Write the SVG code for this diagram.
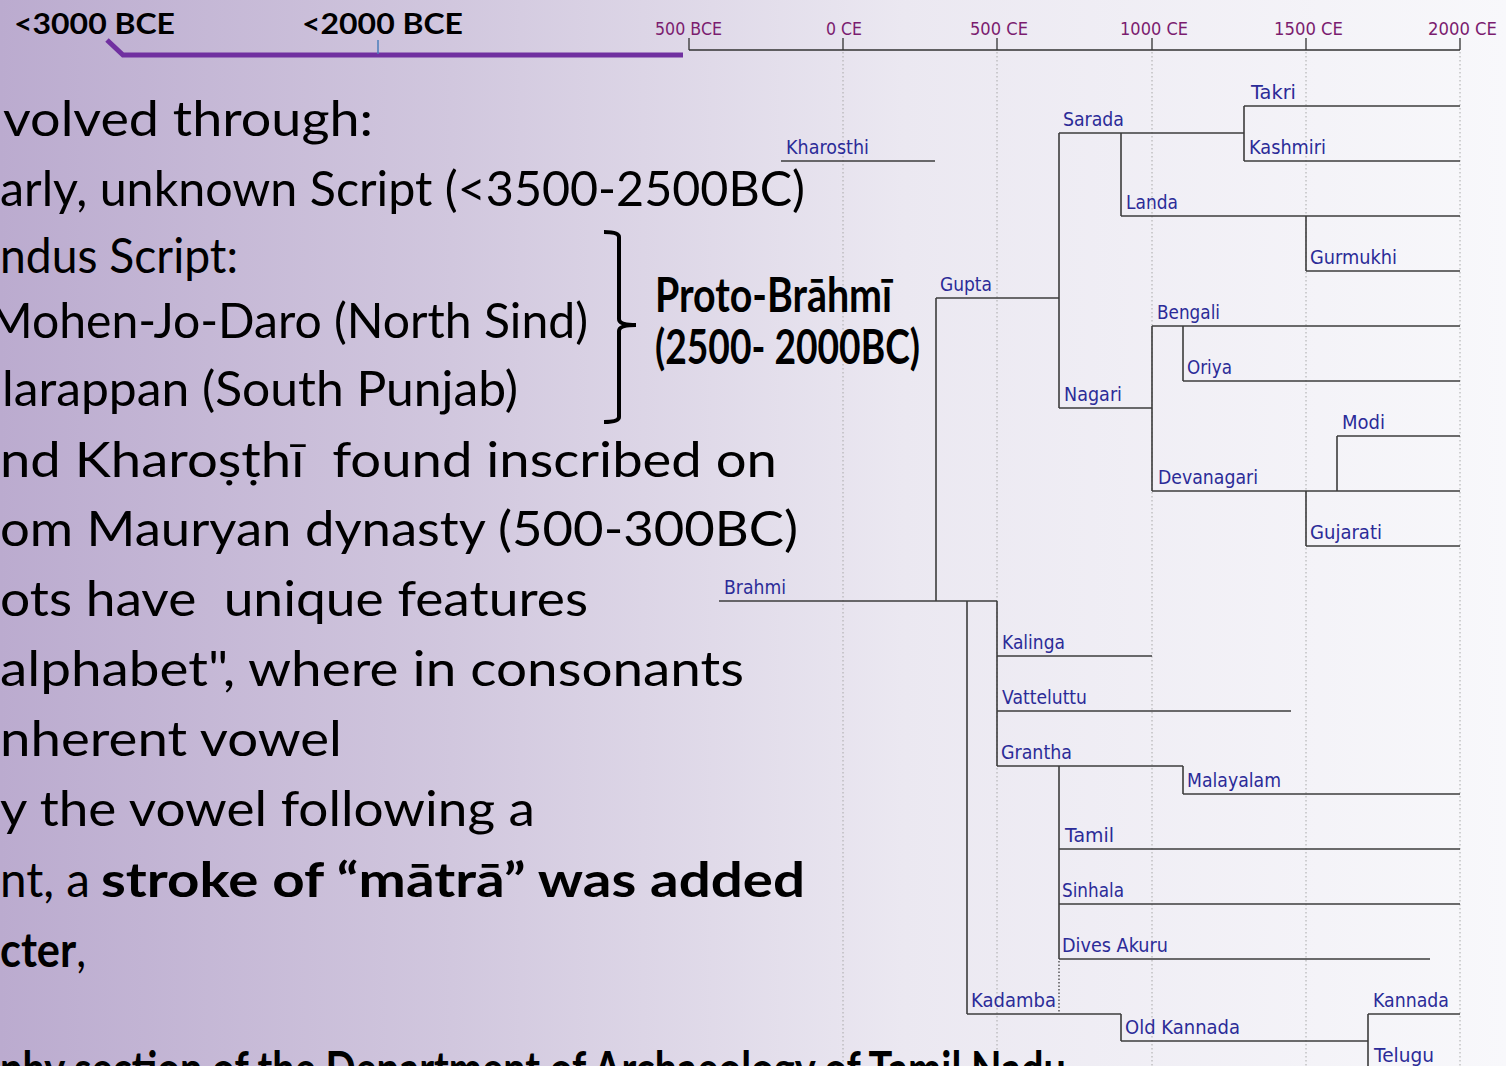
<svg xmlns="http://www.w3.org/2000/svg" width="1506" height="1066" viewBox="0 0 1506 1066">
  <defs>
    <linearGradient id="bg" x1="0" y1="0" x2="1" y2="0">
      <stop offset="0" stop-color="#bbabcf"/>
      <stop offset="0.3" stop-color="#d1c7de"/>
      <stop offset="0.6" stop-color="#ebe8f1"/>
      <stop offset="1" stop-color="#f8f8fb"/>
    </linearGradient>
    <style>
      .body { font-family: Lato, "Open Sans", "Liberation Sans", sans-serif; font-size: 48px; fill: #000; white-space: pre; }
      .bold { font-weight: bold; }
      .era { font-family: Lato, "Liberation Sans", sans-serif; font-weight: bold; font-size: 29px; fill: #000; }
      .axis-label { font-family: "DejaVu Sans", "Liberation Sans", sans-serif; font-size: 18px; fill: #7b1c6f; }
      .axis { stroke: #333; stroke-width: 1.3; fill: none; }
      .grid { stroke: #a8a8a8; stroke-width: 1; stroke-dasharray: 1.5 2.5; }
      .label { font-family: "DejaVu Sans", "Liberation Sans", sans-serif; font-size: 19px; fill: #2b2b98; }
      .branch { stroke: #3c3c3c; stroke-width: 1.6; fill: none; }
      .link { stroke: #3c3c3c; stroke-width: 1.6; fill: none; }
    </style>
  </defs>

  <!-- background -->
  <rect x="0" y="0" width="1506" height="1066" fill="url(#bg)"/>

  <!-- era markers on the left -->
  <text class="era" x="14" y="34" textLength="161" lengthAdjust="spacingAndGlyphs">&lt;3000 BCE</text>
  <text class="era" x="302" y="34" textLength="161" lengthAdjust="spacingAndGlyphs">&lt;2000 BCE</text>
  <polyline points="107,40 123,55 683,55" fill="none" stroke="#7030a0" stroke-width="5"/>
  <line x1="378" y1="40" x2="378" y2="54" stroke="#4a7ebb" stroke-width="1.5"/>

  <!-- time axis -->
  <g id="axis">
    <path class="axis" d="M689,50 H1460 M689,38 V50 M843,38 V50 M997,38 V50 M1152,38 V50 M1306,38 V50 M1460,38 V50"/>
    <text class="axis-label" x="655" y="35" textLength="67" lengthAdjust="spacingAndGlyphs">500 BCE</text>
    <text class="axis-label" x="826" y="35" textLength="36" lengthAdjust="spacingAndGlyphs">0 CE</text>
    <text class="axis-label" x="970" y="35" textLength="58" lengthAdjust="spacingAndGlyphs">500 CE</text>
    <text class="axis-label" x="1120" y="35" textLength="68" lengthAdjust="spacingAndGlyphs">1000 CE</text>
    <text class="axis-label" x="1274" y="35" textLength="69" lengthAdjust="spacingAndGlyphs">1500 CE</text>
    <text class="axis-label" x="1428" y="35" textLength="69" lengthAdjust="spacingAndGlyphs">2000 CE</text>
  </g>

  <!-- dotted century gridlines -->
  <g id="gridlines">
    <line class="grid" x1="843" y1="52" x2="843" y2="1066"/>
    <line class="grid" x1="997" y1="52" x2="997" y2="1066"/>
    <line class="grid" x1="1152" y1="52" x2="1152" y2="1066"/>
    <line class="grid" x1="1306" y1="52" x2="1306" y2="1066"/>
    <line class="grid" x1="1460" y1="52" x2="1460" y2="1066"/>
  </g>

  <!-- body text -->
  <g id="notes">
    <text class="body" x="3" y="136" textLength="370" lengthAdjust="spacingAndGlyphs">volved through:</text>
    <text class="body" x="0" y="206" textLength="805" lengthAdjust="spacingAndGlyphs">arly, unknown Script (&lt;3500-2500BC)</text>
    <text class="body" x="0" y="273" textLength="238" lengthAdjust="spacingAndGlyphs">ndus Script:</text>
    <text class="body" x="-12" y="338" textLength="600" lengthAdjust="spacingAndGlyphs">Mohen-Jo-Daro (North Sind)</text>
    <text class="body" x="2" y="406" textLength="516" lengthAdjust="spacingAndGlyphs">larappan (South Punjab)</text>
    <text class="body" x="0" y="477" textLength="777" lengthAdjust="spacingAndGlyphs">nd Kharoṣṭhī  found inscribed on</text>
    <text class="body" x="0" y="546" textLength="798" lengthAdjust="spacingAndGlyphs">om Mauryan dynasty (500-300BC)</text>
    <text class="body" x="0" y="616" textLength="588" lengthAdjust="spacingAndGlyphs">ots have  unique features</text>
    <text class="body" x="0" y="686" textLength="744" lengthAdjust="spacingAndGlyphs">alphabet", where in consonants</text>
    <text class="body" x="0" y="756" textLength="342" lengthAdjust="spacingAndGlyphs">nherent vowel</text>
    <text class="body" x="0" y="826" textLength="535" lengthAdjust="spacingAndGlyphs">y the vowel following a</text>
    <text class="body" x="0" y="897" textLength="90" lengthAdjust="spacingAndGlyphs">nt, a</text>
    <text class="body bold" x="101" y="897" textLength="704" lengthAdjust="spacingAndGlyphs">stroke of “mātrā” was added</text>
    <text class="body" x="0" y="967" textLength="86" lengthAdjust="spacingAndGlyphs"><tspan class="bold">cter</tspan>,</text>
    <text class="body bold" x="0" y="1086" font-size="38" textLength="1066" lengthAdjust="spacingAndGlyphs">phy section of the Department of Archaeology of Tamil Nadu</text>
  </g>

  <!-- bracket grouping the Indus sites -->
  <g id="proto-brahmi">
    <path d="M604,232 Q619,232 619,237 V319 Q619,325 636,325 Q619,325 619,331 V417 Q619,422 604,422" fill="none" stroke="#000" stroke-width="4"/>
    <text class="body bold" x="655" y="312" font-size="36" textLength="237" lengthAdjust="spacingAndGlyphs">Proto-Brāhmī</text>
    <text class="body bold" x="655" y="364" font-size="36" textLength="265" lengthAdjust="spacingAndGlyphs">(2500- 2000BC)</text>
  </g>

  <!-- links between parent and child scripts -->
  <g id="connectors">
    <path class="link" d="M936,298 V601"/>
    <path class="link" d="M967,601 V1014"/>
    <path class="link" d="M997,601 V766"/>
    <path class="link" d="M1059,133 V408"/>
    <path class="link" d="M1121,133 V216"/>
    <path class="link" d="M1244,106 V161"/>
    <path class="link" d="M1306,216 V271"/>
    <path class="link" d="M1152,326 V491"/>
    <path class="link" d="M1183,326 V381"/>
    <path class="link" d="M1337,436 V491"/>
    <path class="link" d="M1306,491 V546"/>
    <path class="link" d="M1183,766 V794"/>
    <path class="link" d="M1059,766 V959"/>
    <path d="M1059,961 V1012" stroke="#333" stroke-width="1.2" stroke-dasharray="1.5 2"/>
    <path class="link" d="M1121,1014 V1041"/>
    <path class="link" d="M1368,1014 V1069"/>
  </g>

  <!-- scripts -->
  <g id="brahmi"><path class="branch" d="M719,601 H997"/><text class="label" x="724" y="594" textLength="62" lengthAdjust="spacingAndGlyphs">Brahmi</text></g>
  <g id="kharosthi"><path class="branch" d="M781,161 H935"/><text class="label" x="786" y="154" textLength="83" lengthAdjust="spacingAndGlyphs">Kharosthi</text></g>
  <g id="gupta"><path class="branch" d="M936,298 H1059"/><text class="label" x="940" y="291" textLength="52" lengthAdjust="spacingAndGlyphs">Gupta</text></g>
  <g id="sarada"><path class="branch" d="M1059,133 H1244"/><text class="label" x="1063" y="126" textLength="61" lengthAdjust="spacingAndGlyphs">Sarada</text></g>
  <g id="takri"><path class="branch" d="M1244,106 H1460"/><text class="label" x="1251" y="99" textLength="45" lengthAdjust="spacingAndGlyphs">Takri</text></g>
  <g id="kashmiri"><path class="branch" d="M1244,161 H1460"/><text class="label" x="1249" y="154" textLength="77" lengthAdjust="spacingAndGlyphs">Kashmiri</text></g>
  <g id="landa"><path class="branch" d="M1121,216 H1460"/><text class="label" x="1126" y="209" textLength="52" lengthAdjust="spacingAndGlyphs">Landa</text></g>
  <g id="gurmukhi"><path class="branch" d="M1306,271 H1460"/><text class="label" x="1310" y="264" textLength="87" lengthAdjust="spacingAndGlyphs">Gurmukhi</text></g>
  <g id="nagari"><path class="branch" d="M1059,408 H1152"/><text class="label" x="1064" y="401" textLength="58" lengthAdjust="spacingAndGlyphs">Nagari</text></g>
  <g id="bengali"><path class="branch" d="M1152,326 H1460"/><text class="label" x="1157" y="319" textLength="63" lengthAdjust="spacingAndGlyphs">Bengali</text></g>
  <g id="oriya"><path class="branch" d="M1183,381 H1460"/><text class="label" x="1187" y="374" textLength="45" lengthAdjust="spacingAndGlyphs">Oriya</text></g>
  <g id="modi"><path class="branch" d="M1337,436 H1460"/><text class="label" x="1342" y="429" textLength="43" lengthAdjust="spacingAndGlyphs">Modi</text></g>
  <g id="devanagari"><path class="branch" d="M1152,491 H1460"/><text class="label" x="1158" y="484" textLength="100" lengthAdjust="spacingAndGlyphs">Devanagari</text></g>
  <g id="gujarati"><path class="branch" d="M1306,546 H1460"/><text class="label" x="1310" y="539" textLength="72" lengthAdjust="spacingAndGlyphs">Gujarati</text></g>
  <g id="kalinga"><path class="branch" d="M997,656 H1152"/><text class="label" x="1002" y="649" textLength="63" lengthAdjust="spacingAndGlyphs">Kalinga</text></g>
  <g id="vatteluttu"><path class="branch" d="M997,711 H1291"/><text class="label" x="1002" y="704" textLength="85" lengthAdjust="spacingAndGlyphs">Vatteluttu</text></g>
  <g id="grantha"><path class="branch" d="M997,766 H1183"/><text class="label" x="1001" y="759" textLength="71" lengthAdjust="spacingAndGlyphs">Grantha</text></g>
  <g id="malayalam"><path class="branch" d="M1183,794 H1460"/><text class="label" x="1187" y="787" textLength="94" lengthAdjust="spacingAndGlyphs">Malayalam</text></g>
  <g id="tamil"><path class="branch" d="M1059,849 H1460"/><text class="label" x="1065" y="842" textLength="49" lengthAdjust="spacingAndGlyphs">Tamil</text></g>
  <g id="sinhala"><path class="branch" d="M1059,904 H1460"/><text class="label" x="1062" y="897" textLength="62" lengthAdjust="spacingAndGlyphs">Sinhala</text></g>
  <g id="dives-akuru"><path class="branch" d="M1059,959 H1430"/><text class="label" x="1062" y="952" textLength="106" lengthAdjust="spacingAndGlyphs">Dives Akuru</text></g>
  <g id="kadamba"><path class="branch" d="M967,1014 H1121"/><text class="label" x="971" y="1007" textLength="85" lengthAdjust="spacingAndGlyphs">Kadamba</text></g>
  <g id="old-kannada"><path class="branch" d="M1121,1041 H1368"/><text class="label" x="1125" y="1034" textLength="115" lengthAdjust="spacingAndGlyphs">Old Kannada</text></g>
  <g id="kannada"><path class="branch" d="M1368,1014 H1460"/><text class="label" x="1373" y="1007" textLength="76" lengthAdjust="spacingAndGlyphs">Kannada</text></g>
  <g id="telugu"><path class="branch" d="M1368,1069 H1460"/><text class="label" x="1374" y="1062" textLength="60" lengthAdjust="spacingAndGlyphs">Telugu</text></g>
</svg>
